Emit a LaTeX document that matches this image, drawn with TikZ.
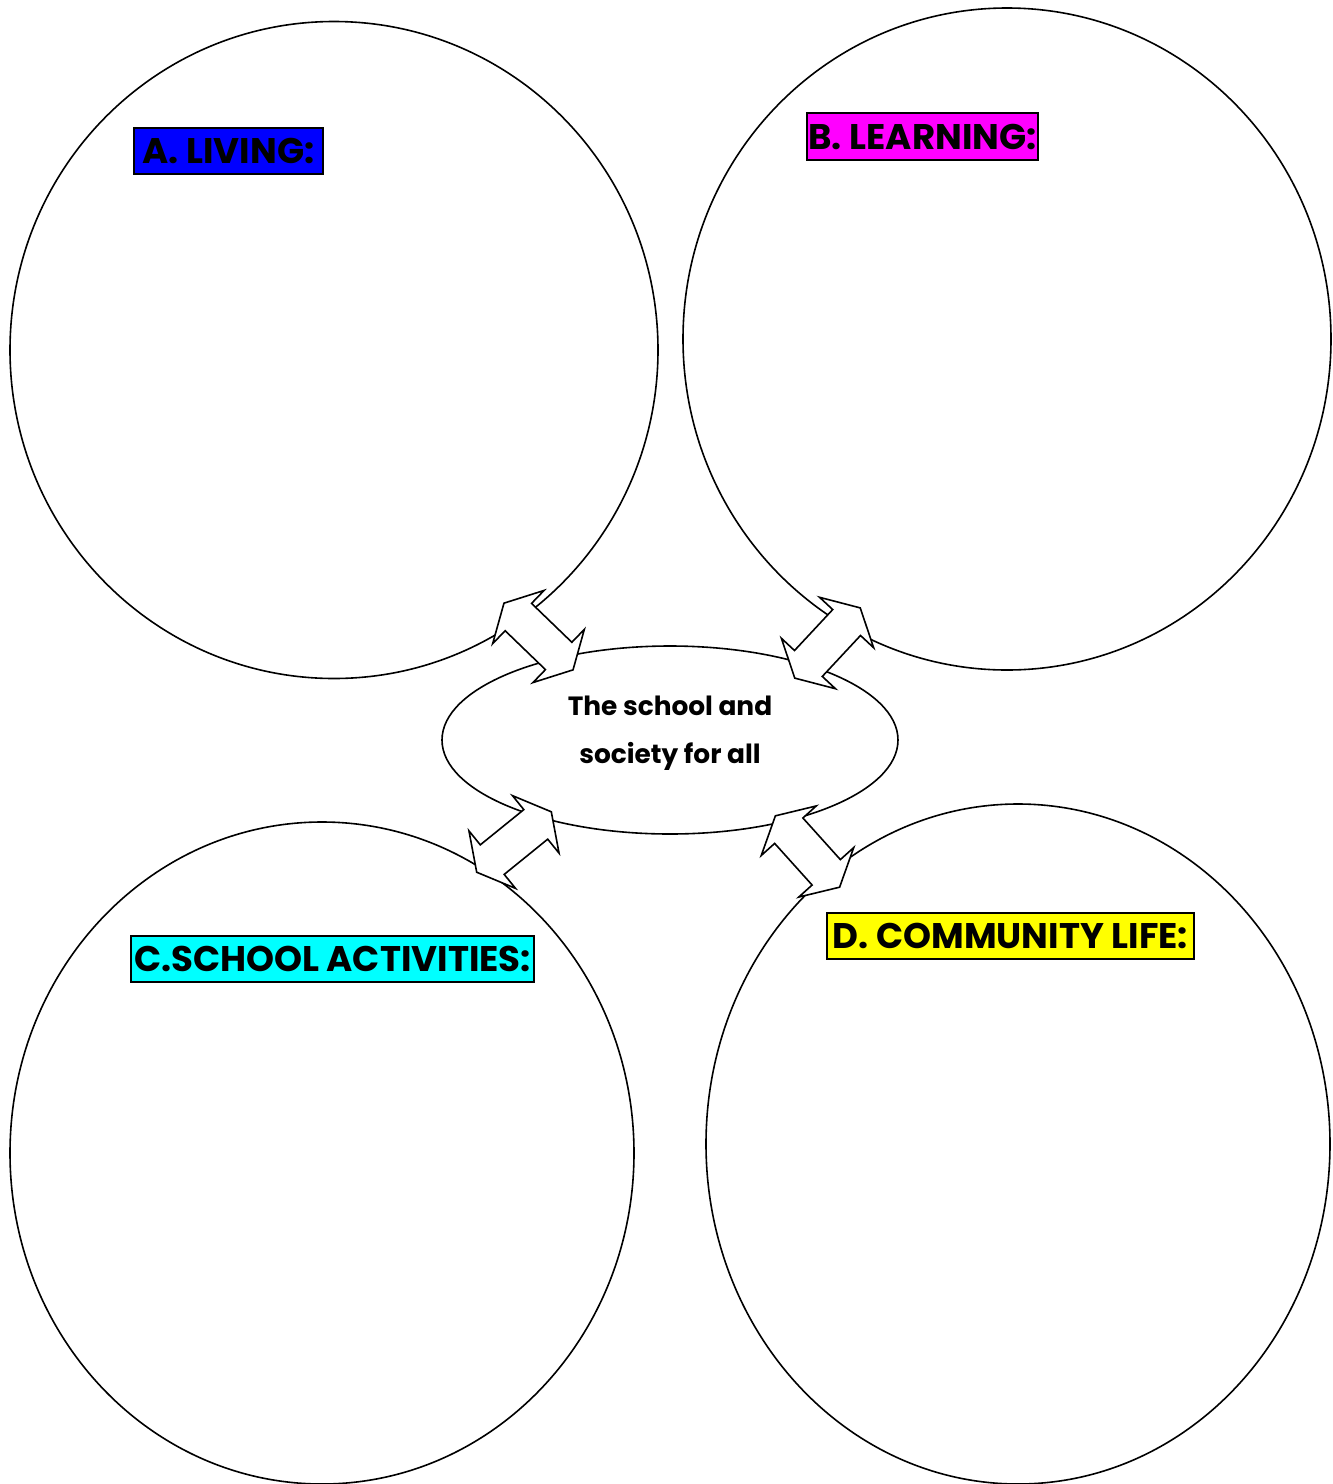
\documentclass[tikz,border=0pt]{standalone}
\usepackage{fontspec}
\setmainfont{Poppins}
\usetikzlibrary{shapes.geometric}
\definecolor{tagblue}{RGB}{0,0,255}
\definecolor{tagpink}{RGB}{255,0,255}
\definecolor{tagcyan}{RGB}{0,255,255}
\definecolor{tagyellow}{RGB}{255,255,0}
\tikzset{
  ring/.style={draw,ellipse,line width=0.8pt,inner sep=0pt,outer sep=0pt},
  tag/.style={draw,line width=1pt,inner sep=0pt,outer sep=0pt,font=\fontsize{17.8}{20}\selectfont\bfseries},
  pics/blockarrow/.style={code={
    \draw[fill=white,line width=0.8pt] (-48,0) -- (-28,-37) -- (-28,-19) -- (28,-19) -- (28,-37)
      -- (48,0) -- (28,37) -- (28,19) -- (-28,19) -- (-28,37) -- cycle;
  }}
}
\begin{document}
\begin{tikzpicture}[x=0.5pt,y=-0.5pt]
\useasboundingbox (0,0) rectangle (1333,1484);
% the four circles
\node[ring,minimum width=324pt,minimum height=328.5pt] (living) at (334,350) {};
\node[ring,minimum width=324pt,minimum height=331pt] (learning) at (1007,339) {};
\node[ring,minimum width=312pt,minimum height=331pt] (activities) at (322,1153) {};
\node[ring,minimum width=312pt,minimum height=340pt] (community) at (1018,1144) {};
% the centre
\node[ring,fill=white,minimum width=228pt,minimum height=94pt] (hub) at (670,740) {};
\node[align=center,font=\fontsize{13.2}{24}\selectfont\bfseries] (hubtext) at (670,733) {The school and\\society for all};
% headings
\node[tag,fill=tagblue,minimum width=94.5pt,minimum height=23pt] (tagA) at (228.5,151) {A. LIVING:};
\node[tag,fill=tagpink,minimum width=115.5pt,minimum height=23.5pt] (tagB) at (922.5,136.5) {B. LEARNING:};
\node[tag,fill=tagcyan,minimum width=201.5pt,minimum height=23pt] (tagC) at (332.5,959) {C.SCHOOL ACTIVITIES:};
\node[tag,fill=tagyellow,minimum width=183.5pt,minimum height=23pt] (tagD) at (1010.5,936) {D. COMMUNITY LIFE:};
% arrows between hub and circles
\pic[rotate=-44] at (538.5,636.5) {blockarrow};
\pic[rotate=47] at (827.5,643) {blockarrow};
\pic[rotate=39] at (514,842) {blockarrow};
\pic[rotate=-48] at (807.5,851.5) {blockarrow};
\end{tikzpicture}
\end{document}
